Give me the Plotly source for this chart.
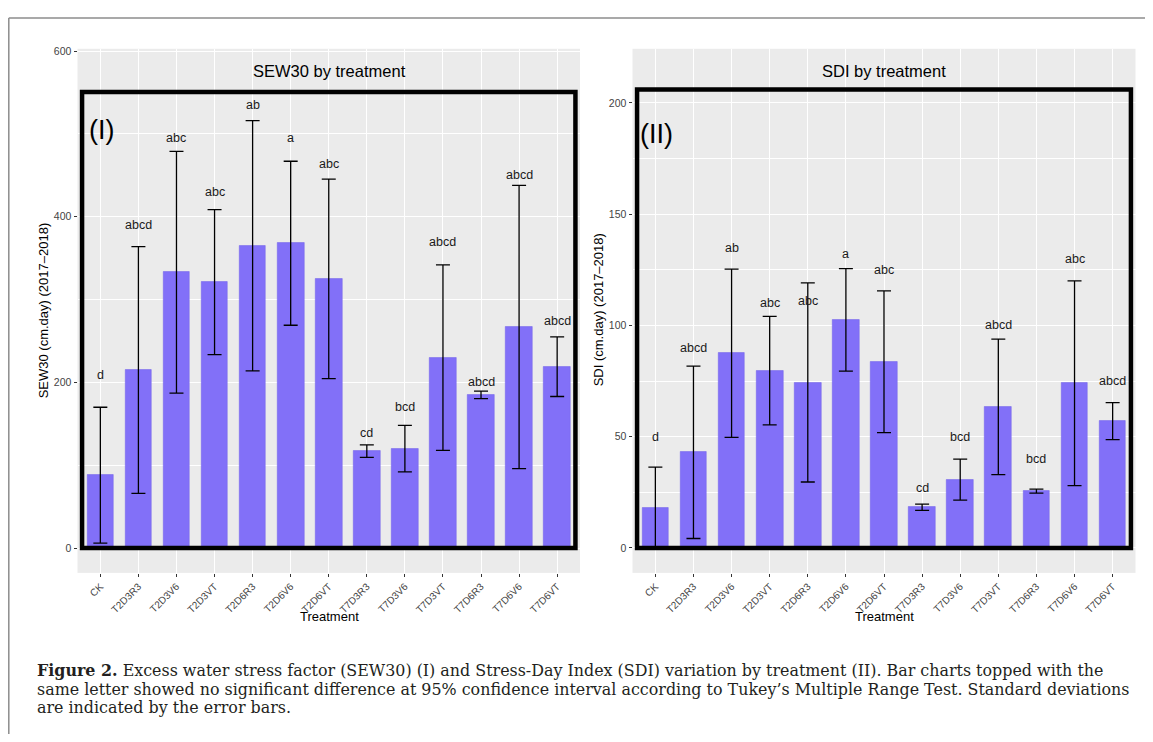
import plotly.graph_objects as go

# ---------------- data ----------------
treatments = ["CK", "T2D3R3", "T2D3V6", "T2D3VT", "T2D6R3", "T2D6V6", "T2D6VT",
              "T7D3R3", "T7D3V6", "T7D3VT", "T7D6R3", "T7D6V6", "T7D6VT"]

sew30_mean = [88, 215, 333, 321, 365, 368, 325, 117, 120, 230, 185, 267, 219]
sew30_sd = [82, 149, 146, 87.5, 151, 99, 120.5, 7.5, 28, 112, 4.5, 171, 36]
sew30_letters = ["d", "abcd", "abc", "abc", "ab", "a", "abc", "cd", "bcd", "abcd", "abcd", "abcd", "abcd"]
sew30_letter_y = [209, 390, 495, 430, 535, 495, 464, 139, 170, 370, 200, 450, 274]

sdi_mean = [18, 43, 87.5, 79.7, 74.4, 102.5, 83.7, 18.3, 30.7, 63.4, 25.5, 74, 57]
sdi_sd = [18.3, 38.75, 37.8, 24.4, 44.75, 23, 31.85, 1.4, 9.2, 30.4, 0.9, 46, 8.3]
sdi_letters = ["d", "abcd", "ab", "abc", "abc", "a", "abc", "cd", "bcd", "abcd", "bcd", "abc", "abcd"]
sdi_letter_y = [50, 90, 135, 110, 111, 132, 125, 27, 50, 100, 40, 130, 75]

caption_lines = [
    "<b>Figure 2.</b> Excess water stress factor (SEW30) (I) and Stress-Day Index (SDI) variation by treatment (II). Bar charts topped with the",
    "same letter showed no significant difference at 95% confidence interval according to Tukey\u2019s Multiple Range Test. Standard deviations",
    "are indicated by the error bars.",
]

# ---------------- layout helpers ----------------
# page has an 8px body margin; the figure is sized to fill the rest of the window
OFF = 8
W, H = 1153 - 2 * OFF, 742 - 2 * OFF
def px(x):
    return (x - OFF) / W
def py(y):
    return 1 - (y - OFF) / H

BAR_COLOR = "#8270F8"
SANS = "Liberation Sans, Arial, sans-serif"
SERIF = "DejaVu Serif, serif"

fig = go.Figure()

err_style = dict(type="data", color="black", thickness=1.3, width=7)

fig.add_trace(go.Bar(
    x=treatments, y=sew30_mean, width=0.7,
    marker=dict(color=BAR_COLOR, line=dict(color="#7060e8", width=0.5)),
    error_y=dict(array=sew30_sd, **err_style),
    xaxis="x", yaxis="y", showlegend=False, hoverinfo="skip"))

fig.add_trace(go.Bar(
    x=treatments, y=sdi_mean, width=0.7,
    marker=dict(color=BAR_COLOR, line=dict(color="#7060e8", width=0.5)),
    error_y=dict(array=sdi_sd, **err_style),
    xaxis="x2", yaxis="y2", showlegend=False, hoverinfo="skip"))

xcommon = dict(type="category", range=[-0.6, 12.6], showgrid=True, gridcolor="white",
               gridwidth=1.1, zeroline=False, showline=False, ticks="outside",
               ticklen=3, tickcolor="#333333", tickwidth=1, tickangle=-45,
               tickfont=dict(family=SANS, size=10, color="#444444"))
ycommon = dict(showgrid=True, gridcolor="white", gridwidth=1.1, zeroline=False,
               showline=False, ticks="outside", ticklen=3, tickcolor="#333333",
               tickwidth=1, tickfont=dict(family=SANS, size=10.5, color="#444444"))

fig.update_layout(
    width=W, height=H,
    margin=dict(l=0, r=0, t=0, b=0),
    paper_bgcolor="white", plot_bgcolor="#EBEBEB",
    bargap=0,
    xaxis=dict(domain=[px(77.5), px(580)], anchor="y", **xcommon),
    xaxis2=dict(domain=[px(632.5), px(1135.5)], anchor="y2", **xcommon),
    yaxis=dict(domain=[py(572), py(45)], anchor="x", range=[-30, 602.8],
               tickvals=[0, 200, 400, 600],
               minor=dict(showgrid=True, gridcolor="white", gridwidth=0.5, dtick=100, tick0=0),
               **ycommon),
    yaxis2=dict(domain=[py(572), py(45)], anchor="x2", range=[-11.2, 224.3],
                tickvals=[0, 50, 100, 150, 200],
                minor=dict(showgrid=True, gridcolor="white", gridwidth=0.5, dtick=25, tick0=0),
                **ycommon),
)

# black boxes (annotation frames)
fig.add_shape(type="rect", xref="x", yref="y", x0=-0.48, x1=12.48, y0=0, y1=550.5,
              line=dict(color="black", width=4.5), layer="above")
fig.add_shape(type="rect", xref="x2", yref="y2", x0=-0.48, x1=12.48, y0=0, y1=206,
              line=dict(color="black", width=4.5), layer="above")

# outer frame lines
fig.add_shape(type="line", xref="paper", yref="paper", x0=px(8.8), x1=1.0, y0=py(14), y1=py(14),
              line=dict(color="#8c8c8c", width=1.5))
fig.add_shape(type="line", xref="paper", yref="paper", x0=px(8.8), x1=px(8.8), y0=py(14), y1=0,
              line=dict(color="#8c8c8c", width=1.5))

def note(x, y, text, size, **kw):
    d = dict(x=px(x), y=py(y), xref="paper", yref="paper", text=text, showarrow=False,
             xanchor="center", yanchor="middle",
             font=dict(family=SANS, size=size, color="black"))
    d.update(kw)
    return d

ann = []
# significance letters
for t, lab, yv in zip(treatments, sew30_letters, sew30_letter_y):
    ann.append(dict(x=t, y=yv, xref="x", yref="y", text=lab, showarrow=False,
                    xanchor="center", yanchor="middle",
                    font=dict(family=SANS, size=12.5, color="#1a1a1a")))
for t, lab, yv in zip(treatments, sdi_letters, sdi_letter_y):
    ann.append(dict(x=t, y=yv, xref="x2", yref="y2", text=lab, showarrow=False,
                    xanchor="center", yanchor="middle",
                    font=dict(family=SANS, size=12.5, color="#1a1a1a")))

# panel titles
ann.append(note(329, 67, "SEW30 by treatment", 16.5))
ann.append(note(884, 67, "SDI by treatment", 16.5))
# panel numerals
ann.append(note(87, 127, "(I)", 27, xanchor="left"))
ann.append(note(638, 131, "(II)", 27, xanchor="left"))
# axis titles
ann.append(note(43, 308, "SEW30 (cm.day) (2017\u20132018)", 13, textangle=-90))
ann.append(note(598, 308, "SDI (cm.day) (2017\u20132018)", 13, textangle=-90))
ann.append(note(329, 616, "Treatment", 13))
ann.append(note(884, 616, "Treatment", 13))

# caption
for i, line in enumerate(caption_lines):
    ann.append(dict(x=px(35), y=py(670 + 18.8 * i), xref="paper", yref="paper", text=line,
                    xanchor="left", yanchor="middle", showarrow=False,
                    font=dict(family=SERIF, size=15.9, color="#231f20")))

fig.update_layout(annotations=ann)

fig.write_html("out.html")
